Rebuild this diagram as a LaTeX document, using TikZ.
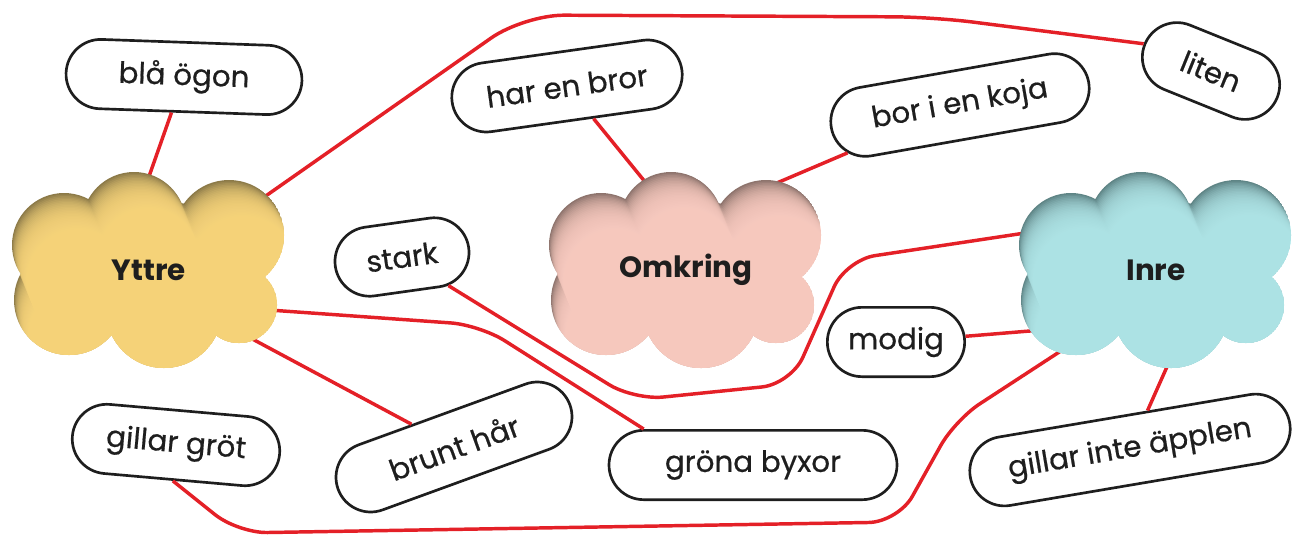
\documentclass[tikz,border=0pt]{standalone}
\usepackage{fontspec}
\setmainfont{Poppins}
\newfontfamily\pillfont{Poppins}[FakeBold=0.6]
\usepackage{tikz}
\usetikzlibrary{shapes.misc}
\definecolor{linkred}{HTML}{E42027}
\definecolor{ink}{HTML}{1E1E1E}
\definecolor{yttrelight}{HTML}{FCD97F}
\definecolor{yttredark}{HTML}{8C7A48}
\definecolor{omkringlight}{HTML}{FDCFC4}
\definecolor{omkringdark}{HTML}{8E746D}
\definecolor{inrelight}{HTML}{B3E9EB}
\definecolor{inredark}{HTML}{5F8586}

\newcommand{\cloudpath}{(-85,-25) circle (52) (-15,-46) circle (52) (80,-35) circle (55)
  (90,35) circle (38) (15,40) circle (58) (-80,30) circle (55) (0,0) ellipse (110 and 70)}
\newcommand{\drawcloud}[4]{%
  \begin{scope}[shift={(#1,#2)}]
    \clip \cloudpath;
    \fill[#4] \cloudpath;
    \foreach \d in {1.5,3,...,45}
      \fill[#3, opacity=0.13, shift={(0.4*\d,\d)}] \cloudpath;
  \end{scope}}

\begin{document}
\begin{tikzpicture}[x=0.75pt, y=-0.75pt,
    pill/.style={rounded rectangle, draw=ink, line width=2pt, fill=white, text=ink,
      minimum height=52pt, inner sep=2pt, font=\pillfont\fontsize{22}{26}\selectfont},
    link/.style={draw=linkred, line width=2.6pt, rounded corners=22pt},
    cloudtext/.style={text=ink, font=\fontsize{22}{26}\selectfont\bfseries}]
  \useasboundingbox (0,0) rectangle (1293,536);

  % labels
  \node[pill, minimum width=181pt, rotate=-2] (blaogon) at (184,77) {blå ögon};
  \node[pill, minimum width=178pt, rotate=8] (harenbror) at (567,86) {har en bror};
  \node[pill, minimum width=200pt, rotate=10] (borienkoja) at (960,105) {bor i en koja};
  \node[pill, minimum width=111pt, rotate=-22] (liten) at (1211,71) {liten};
  \node[pill, minimum width=105pt, rotate=8] (stark) at (402,257) {stark};
  \node[pill, minimum width=107pt] (modig) at (896,342) {modig};
  \node[pill, minimum width=160pt, rotate=-5] (gillargrot) at (176,445) {gillar gröt};
  \node[pill, minimum width=189pt, rotate=20] (brunthar) at (454,447) {brunt hår};
  \node[pill, minimum width=220pt] (gronabyxor) at (753,465) {gröna byxor};
  \node[pill, minimum width=247pt, rotate=9.6] (gillarinte) at (1130,450) {gillar inte äpplen};

  % ends inside the clouds
  \coordinate (yttre-n) at (146,185);
  \coordinate (yttre-ne) at (250,207);
  \coordinate (yttre-e) at (255,309);
  \coordinate (yttre-se) at (243,334);
  \coordinate (omkring-n) at (646,183);
  \coordinate (omkring-ne) at (765,188);
  \coordinate (inre-w) at (1045,230);
  \coordinate (inre-w2) at (1042,330);
  \coordinate (inre-sw) at (1070,345);
  \coordinate (inre-s) at (1170,360);

  \draw[link] (blaogon) -- (yttre-n);
  \draw[link, rounded corners=30pt] (yttre-ne) -- (524,15) -- (933,17) -- (liten.west);
  \draw[link] (yttre-e) -- (480,325) -- (gronabyxor.north west);
  \draw[link] (yttre-se) -- (brunthar);
  \draw[link] (gillargrot.south) -- (238,533) -- (898,522) -- (955,420) -- (inre-sw);
  \draw[link] (stark) -- (634,400) -- (791,384) -- (846,260) -- (inre-w);
  \draw[link] (harenbror) -- (omkring-n);
  \draw[link] (borienkoja) -- (omkring-ne);
  \draw[link] (modig) -- (inre-w2);
  \draw[link] (inre-s) -- (gillarinte);

  % clouds
  \drawcloud{149}{270}{yttrelight}{yttredark}
  \drawcloud{686}{270}{omkringlight}{omkringdark}
  \drawcloud{1156}{270}{inrelight}{inredark}
  \node[cloudtext] (yttre) at (149,270) {Yttre};
  \node[cloudtext] (omkring) at (686,270) {Omkring};
  \node[cloudtext] (inre) at (1156,270) {Inre};
\end{tikzpicture}
\end{document}
